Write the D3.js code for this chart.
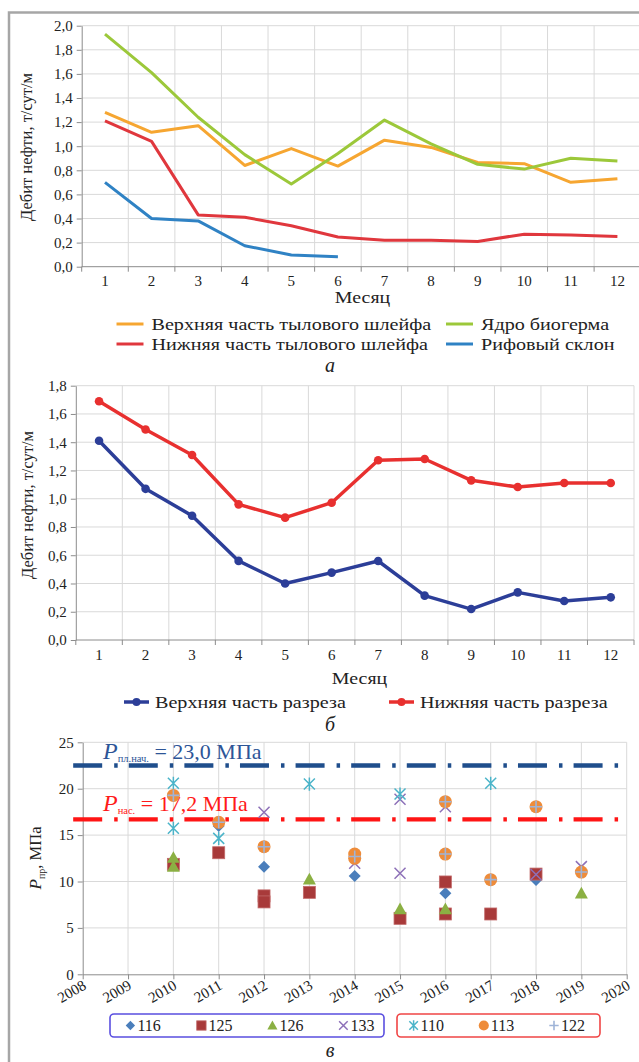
<!DOCTYPE html>
<html lang="ru">
<head>
<meta charset="UTF-8">
<title>Дебит нефти и давление</title>
<script src="https://d3js.org/d3.v7.min.js"></script>
<style>
  body { margin: 0; background: #fff; }
  svg text { fill: #222; }
  .grid line { stroke: #d9d9d9; stroke-width: 1; }
  .axis path, .axis line { stroke: #8c8c8c; }
</style>
</head>
<body>
<svg width="639" height="1062"></svg>
<script>
// ---- data: panel а ----
const months = [1, 2, 3, 4, 5, 6, 7, 8, 9, 10, 11, 12];
const upperTail = [1.28, 1.115, 1.17, 0.84, 0.98, 0.835, 1.05, 0.99, 0.865, 0.855, 0.70, 0.73];
const bioherm   = [1.93, 1.61, 1.24, 0.93, 0.686, 0.94, 1.217, 1.02, 0.85, 0.81, 0.90, 0.877];
const lowerTail = [1.21, 1.04, 0.43, 0.41, 0.34, 0.246, 0.22, 0.22, 0.21, 0.27, 0.263, 0.25];
const reefSlope = [0.70, 0.40, 0.38, 0.174, 0.097, 0.083];
const ticksA = [0, 0.2, 0.4, 0.6, 0.8, 1.0, 1.2, 1.4, 1.6, 1.8, 2.0];

// ---- data: panel б ----
const upperSection = [1.41, 1.07, 0.88, 0.56, 0.40, 0.477, 0.559, 0.314, 0.219, 0.337, 0.276, 0.302];
const lowerSection = [1.69, 1.49, 1.31, 0.96, 0.866, 0.972, 1.272, 1.281, 1.13, 1.083, 1.111, 1.111];
const ticksB = [0, 0.2, 0.4, 0.6, 0.8, 1.0, 1.2, 1.4, 1.6, 1.8];

// ---- data: panel в (year, pressure) ----
const well116 = [[2011, 15.98], [2012, 11.6], [2014, 10.59], [2016, 8.73], [2018, 10.16]];
const well125 = [[2010, 11.85], [2011, 13.1], [2012, 8.45], [2012, 7.8], [2013, 8.83], [2015, 6.03], [2016, 9.95], [2016, 6.5], [2017, 6.5], [2018, 10.8]];
const well126 = [[2010, 12.57], [2010, 11.6], [2013, 10.23], [2015, 7.04], [2016, 7.04], [2019, 8.73]];
const well133 = [[2012, 17.46], [2014, 11.96], [2015, 18.86], [2015, 10.88], [2016, 18.06], [2018, 10.75], [2019, 11.6]];
const well110 = [[2010, 20.58], [2010, 15.73], [2011, 14.65], [2013, 20.5], [2015, 19.43], [2017, 20.58]];
const well113 = [[2010, 19.28], [2011, 16.38], [2012, 13.75], [2014, 12.96], [2014, 12.5], [2016, 18.6], [2016, 12.96], [2017, 10.2], [2018, 18.06], [2019, 11.02]];
const well122 = [[2010, 19.28], [2011, 16.38], [2012, 13.75], [2014, 12.7], [2016, 18.6], [2016, 12.96], [2017, 10.2], [2018, 18.06], [2019, 11.02]];
const years = [2008, 2009, 2010, 2011, 2012, 2013, 2014, 2015, 2016, 2017, 2018, 2019, 2020];
const ticksC = [0, 5, 10, 15, 20, 25];
const pInitLine = 22.5, pSatLine = 16.7;     // where the reference lines are drawn
const refSpan = [2007.79, 2019.81];

const SERIF = "'Liberation Serif', 'Times New Roman', Times, 'DejaVu Serif', serif";
const svg = d3.select("svg").attr("font-family", SERIF);
const fmt = d => d3.format(".1f")(d).replace(".", ",");

// the source figure is a bit wider than tall, widen text the same way
function stretch(sel, k) {
  sel.each(function () {
    const w = this.getComputedTextLength();
    d3.select(this).attr("textLength", w * k).attr("lengthAdjust", "spacingAndGlyphs");
  });
}

// outer frame
svg.append("path").attr("d", "M9,1062V12.5H639")
  .attr("fill", "none").attr("stroke", "#a6a6a6").attr("stroke-width", 2.5);

function monthChart(o) {
  const x = d3.scaleBand().domain(months).range([o.left, o.right]);
  const y = d3.scaleLinear().domain([0, o.max]).range([o.bottom, o.top]);
  const g = svg.append("g");
  const bw = x.bandwidth();

  // grid
  const grid = g.append("g").attr("class", "grid");
  grid.selectAll(".h").data(o.ticks.slice(1)).join("line")
    .attr("x1", o.left).attr("x2", o.right).attr("y1", y).attr("y2", y);
  grid.selectAll(".v").data(months.slice(1).concat(["end"])).join("line")
    .attr("x1", d => d === "end" ? o.right : x(d)).attr("x2", d => d === "end" ? o.right : x(d))
    .attr("y1", o.top).attr("y2", o.bottom);

  // y axis
  g.append("g").attr("class", "axis").attr("transform", `translate(${o.left},0)`)
    .call(d3.axisLeft(y).tickValues(o.ticks).tickFormat(fmt).tickSize(5).tickSizeOuter(0))
    .call(a => a.attr("font-family", SERIF).selectAll("text").attr("font-size", 15).attr("x", -9));
  // x axis: ticks between months
  const xa = g.append("g").attr("class", "axis");
  xa.append("line").attr("x1", o.left).attr("x2", o.right).attr("y1", o.bottom).attr("y2", o.bottom);
  xa.selectAll(".t").data(months.concat(["end"])).join("line")
    .attr("x1", d => d === "end" ? o.right : x(d)).attr("x2", d => d === "end" ? o.right : x(d))
    .attr("y1", o.bottom).attr("y2", o.bottom + 5);
  xa.selectAll("text").data(months).join("text")
    .attr("x", d => x(d) + bw / 2).attr("y", o.bottom + o.tickDy)
    .attr("text-anchor", "middle").attr("font-size", 15).text(d => d);

  g.append("text").attr("x", o.titleX).attr("y", o.titleY)
    .attr("text-anchor", "middle").attr("font-size", 17).text("Месяц")
    .call(stretch, 1.17);
  g.append("text").attr("transform", `translate(${o.yTitleX},${o.yTitleY}) rotate(-90)`)
    .attr("text-anchor", "middle").attr("font-size", 16.5).text("Дебит нефти, т/сут/м");

  const line = d3.line().x((d, i) => x(months[i]) + bw / 2).y(d => y(d));
  o.series.forEach(s => {
    g.append("path").datum(s.values).attr("d", line)
      .attr("fill", "none").attr("stroke", s.color).attr("stroke-width", s.width)
      .attr("stroke-linejoin", "round");
    if (s.dots) {
      g.selectAll(null).data(s.values).join("circle")
        .attr("cx", (d, i) => x(months[i]) + bw / 2).attr("cy", y).attr("r", 4.3)
        .attr("fill", s.color);
    }
  });
  return g;
}

// ---- panel а ----
const seriesA = [
  { name: "Верхняя часть тылового шлейфа", values: upperTail, color: "#f6a631", width: 3 },
  { name: "Ядро биогерма", values: bioherm, color: "#9cc83a", width: 3 },
  { name: "Нижняя часть тылового шлейфа", values: lowerTail, color: "#e0373d", width: 3 },
  { name: "Рифовый склон", values: reefSlope, color: "#2f82c4", width: 3 }
];
monthChart({ left: 81.7, right: 640.7, top: 25.7, bottom: 266.7, max: 2.0, ticks: ticksA,
  tickDy: 19, titleX: 362.5, titleY: 302.5, yTitleX: 32, yTitleY: 147, series: seriesA });

const legA = svg.append("g").selectAll("g").data(seriesA).join("g")
  .attr("transform", (d, i) => `translate(${i % 2 ? 446 : 116.5},${i < 2 ? 324 : 344})`);
legA.append("line").attr("x1", 0).attr("x2", 27).attr("stroke", d => d.color).attr("stroke-width", 3);
legA.append("text").attr("x", 35).attr("y", 5.5).attr("font-size", 17.5).text(d => d.name)
  .call(stretch, 1.15);

// ---- panel б ----
const seriesB = [
  { name: "Верхняя часть разреза", values: upperSection, color: "#2c3e98", width: 3.5, dots: true },
  { name: "Нижняя часть разреза", values: lowerSection, color: "#e8302f", width: 3.5, dots: true }
];
monthChart({ left: 75.8, right: 634, top: 385.7, bottom: 640, max: 1.8, ticks: ticksB,
  tickDy: 20, titleX: 359.5, titleY: 684, yTitleX: 33, yTitleY: 505, series: seriesB });

const legB = svg.append("g").selectAll("g").data(seriesB).join("g")
  .attr("transform", (d, i) => `translate(${i ? 389 : 124},702)`);
legB.append("line").attr("x1", 0).attr("x2", 25).attr("stroke", d => d.color).attr("stroke-width", 3.5);
legB.append("circle").attr("cx", 12.5).attr("r", 4).attr("fill", d => d.color);
legB.append("text").attr("x", 31).attr("y", 6).attr("font-size", 17.5).text(d => d.name)
  .call(stretch, 1.15);

// ---- panel в ----
const L = 82.7, R = 626.7, T = 742.3, B = 974.3;
const xc = d3.scaleLinear().domain([2008, 2020]).range([L, R]);
const yc = d3.scaleLinear().domain([0, 25]).range([B, T]);
const gc = svg.append("g");
const gridC = gc.append("g").attr("class", "grid");
gridC.selectAll(".h").data(ticksC.slice(1)).join("line")
  .attr("x1", L).attr("x2", R).attr("y1", yc).attr("y2", yc);
gridC.selectAll(".v").data(years.slice(1)).join("line")
  .attr("x1", xc).attr("x2", xc).attr("y1", T).attr("y2", B);
gc.append("g").attr("class", "axis").attr("transform", `translate(${L},0)`)
  .call(d3.axisLeft(yc).tickValues(ticksC).tickSize(5).tickSizeOuter(0))
  .call(a => a.attr("font-family", SERIF).selectAll("text").attr("font-size", 15).attr("x", -9));
gc.append("g").attr("class", "axis").attr("transform", `translate(0,${B})`)
  .call(d3.axisBottom(xc).tickValues(years).tickFormat(d3.format("d")).tickSize(5).tickSizeOuter(0))
  .call(a => a.attr("font-family", SERIF).selectAll("text").attr("font-size", 15).attr("text-anchor", "end")
    .attr("dy", 0).attr("y", 0).attr("transform", "translate(4,14) rotate(-30)"));

gc.append("text").attr("transform", `translate(41,858) rotate(-90)`).attr("text-anchor", "middle")
  .call(t => {
    t.append("tspan").attr("font-size", 17).attr("font-style", "italic").text("P");
    t.append("tspan").attr("font-size", 10).attr("dy", 4).text("пр");
    t.append("tspan").attr("font-size", 16.5).attr("dy", -4).text(", МПа");
  });

// reference lines with labels
const refs = [
  { v: pInitLine, color: "#1f4e8c", textColor: "#2d5597", sub: "пл.нач.", val: " = 23,0 МПа", ty: 759 },
  { v: pSatLine, color: "#ff1515", textColor: "#ff1a1a", sub: "нас.", val: " = 17,2 МПа", ty: 811 }
];
refs.forEach(r => {
  gc.append("line").attr("x1", xc(refSpan[0])).attr("x2", xc(refSpan[1]))
    .attr("y1", yc(r.v)).attr("y2", yc(r.v))
    .attr("stroke", r.color).attr("stroke-width", 4.3).attr("stroke-dasharray", "29 12 3.5 11.1");
  gc.append("text").attr("x", 103).attr("y", r.ty).style("fill", r.textColor)
    .call(t => {
      t.append("tspan").attr("font-size", 24).attr("font-style", "italic").text("P");
      t.append("tspan").attr("font-size", 10.5).attr("dy", 3).text(r.sub);
      t.append("tspan").attr("font-size", 22).attr("dy", -3).text(r.val);
    });
});

function marker(sel, type, s, color) {
  const h = s / 2;
  if (type === "diamond") sel.append("path").attr("d", `M0,${-h}L${h},0L0,${h}L${-h},0Z`).attr("fill", color);
  if (type === "square") sel.append("rect").attr("x", -h).attr("y", -h).attr("width", s).attr("height", s)
    .attr("fill", color).attr("stroke", "#c26a6a").attr("stroke-width", 0.8);
  if (type === "triangle") sel.append("path").attr("d", `M0,${-h}L${h},${h * 0.8}L${-h},${h * 0.8}Z`).attr("fill", color);
  if (type === "circle") sel.append("circle").attr("r", h).attr("fill", color);
  if (type === "cross") sel.append("path").attr("d", `M${-h},${-h}L${h},${h}M${-h},${h}L${h},${-h}`)
    .attr("stroke", color).attr("stroke-width", 1.5);
  if (type === "star") sel.append("path").attr("d", `M${-h},${-h}L${h},${h}M${-h},${h}L${h},${-h}M0,${-h * 1.2}V${h * 1.2}`)
    .attr("stroke", color).attr("stroke-width", 1.5);
  if (type === "plus") sel.append("path").attr("d", `M${-h},0H${h}M0,${-h}V${h}`)
    .attr("stroke", color).attr("stroke-width", 1.6);
}

const wells = [
  { name: "116", data: well116, type: "diamond", color: "#4a7ebb", size: 12, box: 0 },
  { name: "125", data: well125, type: "square", color: "#a83a3a", size: 12, box: 0 },
  { name: "126", data: well126, type: "triangle", color: "#8bb043", size: 13, box: 0 },
  { name: "133", data: well133, type: "cross", color: "#8d70b8", size: 11, box: 0 },
  { name: "110", data: well110, type: "star", color: "#4bb4c9", size: 11, box: 1 },
  { name: "113", data: well113, type: "circle", color: "#ee8c3a", size: 13, box: 1 },
  { name: "122", data: well122, type: "plus", color: "#9fb4d8", size: 12, box: 1 }
];
wells.forEach(w => {
  gc.selectAll(null).data(w.data).join("g")
    .attr("transform", d => `translate(${xc(d[0])},${yc(d[1])})`)
    .each(function () { marker(d3.select(this), w.type, w.size, w.color); });
});

// legend boxes
const boxes = [{ x: 110, w: 274, color: "#5a4fe0" }, { x: 397, w: 203, color: "#f04545" }];
svg.append("g").selectAll("rect").data(boxes).join("rect")
  .attr("x", d => d.x).attr("y", 1014).attr("width", d => d.w).attr("height", 23)
  .attr("rx", 4).attr("fill", "none").attr("stroke", d => d.color).attr("stroke-width", 1.6);
const legC = svg.append("g").selectAll("g").data(wells).join("g")
  .attr("transform", w => {
    const k = wells.filter(v => v.box === w.box).indexOf(w);
    const x = w.box ? 413.6 + k * 70.2 : 130.4 + k * 71;
    return `translate(${x},1025.5)`;
  });
legC.each(function (w) { marker(d3.select(this), w.type, w.size * 0.78, w.color); });
legC.append("text").attr("x", 7).attr("y", 5.5).attr("font-size", 16).text(w => w.name);

// captions
const captions = [{ t: "а", y: 372 }, { t: "б", y: 731 }, { t: "в", y: 1057 }];
svg.append("g").selectAll("text").data(captions).join("text")
  .attr("x", 330).attr("y", d => d.y).attr("text-anchor", "middle")
  .attr("font-size", 20).attr("font-style", "italic").text(d => d.t);
</script>
</body>
</html>
